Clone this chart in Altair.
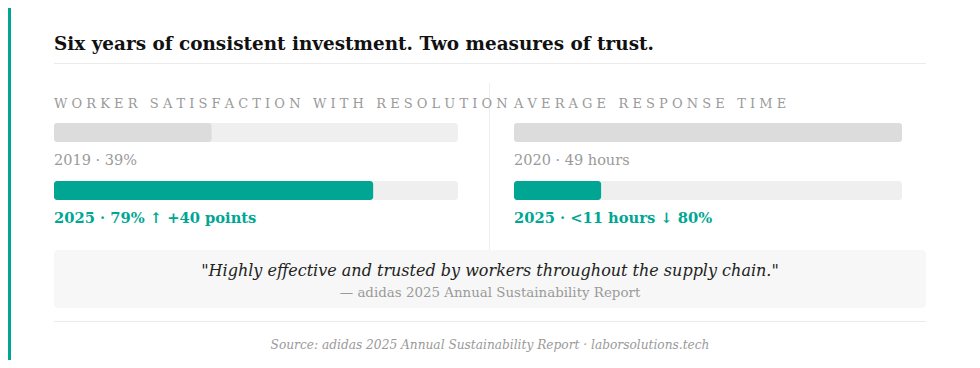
import altair as alt
import pandas as pd

W, H = 964, 352
FONT = "DejaVu Serif"
TEAL = "#00A693"
GREY_TXT = "#9a9a9a"

title_text = "Six years of consistent investment. Two measures of trust."
metric_names = ["WORKER SATISFACTION WITH RESOLUTION", "AVERAGE RESPONSE TIME"]
baseline_years = [2019, 2020]
baseline_values = [39, 49]
current_years = [2025, 2025]
current_values = [79, 11]
scale_max = [100, 49]
baseline_labels = ["2019 · 39%", "2020 · 49 hours"]
current_labels = ["2025 · 79% ↑ +40 points", "2025 · <11 hours ↓ 80%"]
quote_text = '"Highly effective and trusted by workers throughout the supply chain."'
quote_source = "— adidas 2025 Annual Sustainability Report"
source_text = "Source: adidas 2025 Annual Sustainability Report · laborsolutions.tech"

panel_ranges = [[46, 450], [506, 894]]


def spaced(s):
    return "\u00a0".join(list(s.replace(" ", "\u00a0")))


def txt(t, x, y, size, color, weight="normal", style="normal", align="left"):
    return alt.Chart(pd.DataFrame({"t": [t]})).mark_text(
        font=FONT, fontSize=size, color=color, fontWeight=weight, fontStyle=style,
        align=align, baseline="alphabetic"
    ).encode(text="t:N", x=alt.value(x), y=alt.value(y))


def box(x, x2, y, y2, color, radius=0):
    return alt.Chart(pd.DataFrame({"a": [0]})).mark_rect(
        color=color, cornerRadius=radius
    ).encode(x=alt.value(x), x2=alt.value(x2), y=alt.value(y), y2=alt.value(y2))


layers = []
# left accent border
layers.append(box(0, 3, 0, H, TEAL))
# title + rule
layers.append(txt(title_text, 46, 42, 18.4, "#111111", weight="bold"))
layers.append(box(46, 918, 55, 56, "#ebebeb"))
# vertical divider
layers.append(box(481, 482, 75, 242, "#eeeeee"))

for i in range(2):
    scale = alt.Scale(domain=[0, scale_max[i]], range=panel_ranges[i])
    df = pd.DataFrame({
        "zero": [0, 0],
        "max": [scale_max[i], scale_max[i]],
        "value": [baseline_values[i], current_values[i]],
        "year": [baseline_years[i], current_years[i]],
    })
    for k, (y0, y1, col) in enumerate([(115, 134, "#dcdcdc"), (173, 192, TEAL)]):
        sub = alt.Chart(df.iloc[[k]])
        layers.append(sub.mark_rect(color="#efefef", cornerRadius=3).encode(
            x=alt.X("zero:Q", scale=scale, axis=None), x2="max:Q",
            y=alt.value(y0), y2=alt.value(y1)))
        layers.append(sub.mark_rect(color=col, cornerRadius=3).encode(
            x=alt.X("zero:Q", scale=scale, axis=None), x2="value:Q",
            y=alt.value(y0), y2=alt.value(y1)))
    x0 = panel_ranges[i][0]
    layers.append(txt(spaced(metric_names[i]), x0, 100, 13, GREY_TXT))
    layers.append(txt(baseline_labels[i], x0, 157, 14.5, GREY_TXT))
    layers.append(txt(current_labels[i], x0, 215, 14.7, TEAL, weight="bold"))

# quote box
layers.append(box(46, 918, 242, 300, "#f6f7f6", radius=4))
layers.append(txt(quote_text, 482, 268, 16, "#222222", style="italic", align="center"))
layers.append(txt(quote_source, 482, 289, 13.4, GREY_TXT, align="center"))
layers.append(box(46, 918, 313, 314, "#ebebeb"))
layers.append(txt(source_text, 482, 341, 12.2, GREY_TXT, style="italic", align="center"))

chart = alt.layer(*layers).resolve_scale(x="independent").properties(
    width=W, height=H, padding=0, autosize=alt.AutoSizeParams(type="none"),
    background="white"
).configure_view(stroke=None)

chart.save("out.html", embed_options={"renderer": "svg", "actions": False})
